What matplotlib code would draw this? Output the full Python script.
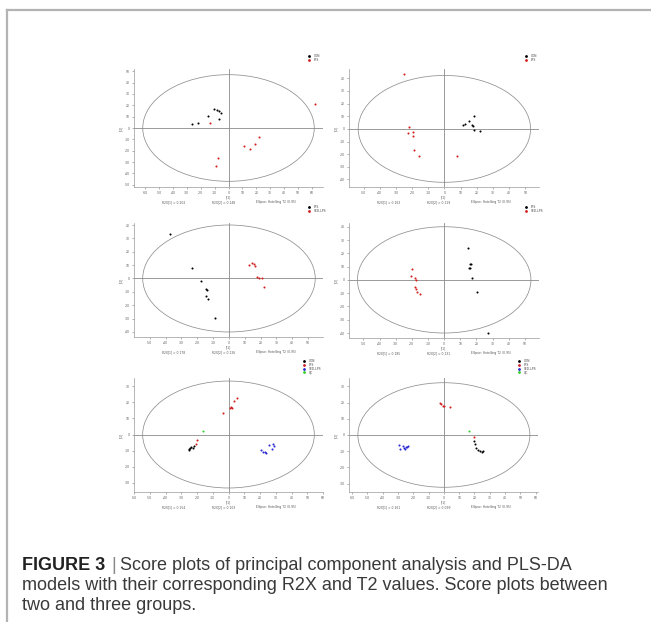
import matplotlib
matplotlib.use("Agg")
import matplotlib.pyplot as plt
from matplotlib.patches import Ellipse
from matplotlib.lines import Line2D
import matplotlib.font_manager as fm
import numpy as np

W, H = 651, 622

# ---- score data (t[1], t[2]) per model ----
p1_con_x = [-10.3, -8.4, -6.5, -5.3, -14.6, -6.7, -21.8, -26.6]
p1_con_y = [17.1, 15.6, 14.7, 13.2, 10.9, 8.2, 4.1, 3.5]
p1_lps_x = [-13.4, 62.4, 21.6, 18.9, 11.3, 15.8, -7.7, -9.1]
p1_lps_y = [4.1, 21.2, -7.9, -13.8, -15.6, -18.2, -26.5, -33.2]

p2_con_x = [11.3, 13.0, 15.3, 18.1, 17.3, 17.7, 18.1, 22.1]
p2_con_y = [3.2, 4.0, 6.6, 10.1, 3.2, 2.4, -0.8, -1.3]
p2_lps_x = [-25.2, -21.9, -22.3, -19.6, -19.6, -18.6, -15.5, 8.0]
p2_lps_y = [43.1, 1.3, -3.4, -2.4, -5.3, -16.9, -21.2, -21.4]

p3_lps_x = [-37.5, -23.2, -17.5, -14.7, -13.7, -14.3, -13.5, -8.6]
p3_lps_y = [33.0, 7.75, -2.0, -8.0, -8.25, -12.75, -15.25, -29.75]
p3_sed_x = [12.4, 14.5, 15.6, 16.6, 17.5, 18.7, 20.8, 21.9]
p3_sed_y = [10.25, 11.5, 10.5, 9.0, 1.25, 0.0, 0.0, -6.25]

p4_lps_x = [14.5, 16.3, 15.5, 15.9, 16.7, 17.1, 20.2, 27.3]
p4_lps_y = [23.75, 11.75, 9.25, 8.75, 12.25, 1.75, -9.5, -40.0]
p4_sed_x = [-20.2, -20.5, -18.2, -17.6, -18.2, -17.6, -16.9, -15.1]
p4_sed_y = [8.0, 3.25, 1.75, -0.25, -5.0, -6.75, -9.5, -10.5]

p5_con_x = [-21.7, -22.7, -24.2, -25.3, -23.5, -24.8]
p5_con_y = [-6.9, -8.1, -8.5, -9.4, -7.6, -9.0]
p5_lps_x = [5.5, 3.8, 1.7, 0.8, -3.6, 2.0, -19.8, -20.6]
p5_lps_y = [22.9, 21.0, 16.9, 16.25, 13.3, 16.5, -3.5, -5.6]
p5_sed_x = [25.5, 28.0, 28.8, 27.8, 20.8, 22.1, 23.8, 23.2]
p5_sed_y = [-6.5, -6.0, -7.3, -8.75, -9.6, -10.8, -11.7, -10.8]
p5_qc_x = [-16.4]
p5_qc_y = [2.3]

p6_con_x = [19.8, 20.2, 21.1, 22.4, 23.7, 25.0, 25.6]
p6_con_y = [-3.5, -5.7, -7.8, -9.4, -10.1, -10.5, -10.1]
p6_lps_x = [-2.6, -2.0, -0.4, 0.2, 3.7, 19.6]
p6_lps_y = [19.9, 19.3, 17.9, 17.7, 17.0, -1.4]
p6_sed_x = [-29.6, -26.7, -24.8, -23.3, -26.1, -28.7, -25.4, -23.9]
p6_sed_y = [-6.2, -6.6, -7.2, -6.8, -8.2, -8.4, -8.8, -7.4]
p6_qc_x = [16.5]
p6_qc_y = [2.3]

# group labels and colours
two_group_a = ["CON", "LPS"]
two_group_b = ["LPS", "SED-LPS"]
three_group = ["CON", "LPS", "SED-LPS", "QC"]
colors_two = ["#000000", "#d21f1f"]
colors_four = ["#000000", "#d21f1f", "#2a2ad0", "#2fd02f"]

# model summary texts
r2x_1 = ["R2X[1] = 0.202", "R2X[1] = 0.163", "R2X[1] = 0.178", "R2X[1] = 0.185", "R2X[1] = 0.154", "R2X[1] = 0.161"]
r2x_2 = ["R2X[2] = 0.148", "R2X[2] = 0.119", "R2X[2] = 0.126", "R2X[2] = 0.131", "R2X[2] = 0.103", "R2X[2] = 0.099"]
ellipse_txt = "Ellipse: Hotelling T2 (0.95)"

# caption
cap_head = "FIGURE 3"
cap_line1 = "Score plots of principal component analysis and PLS-DA"
cap_line2 = "models with their corresponding R2X and T2 values. Score plots between"
cap_line3 = "two and three groups."

# ---- axes geometry / scales per model ----
panels = [
    dict(box=(134, 69, 323, 187), xlim=(-68, 68), ylim=(-52, 52), ell=(61.7, 47.0),
         xt=np.arange(-60, 61, 10), yt=np.arange(-50, 51, 10),
         groups=[(p1_con_x, p1_con_y), (p1_lps_x, p1_lps_y)], labels=two_group_a, colors=colors_two,
         leg=(309, 56)),
    dict(box=(349, 69, 539, 187), xlim=(-59, 58.5), ylim=(-46, 47.4), ell=(53.3, 42.3),
         xt=np.arange(-50, 51, 10), yt=np.arange(-40, 41, 10),
         groups=[(p2_con_x, p2_con_y), (p2_lps_x, p2_lps_y)], labels=two_group_a, colors=colors_two,
         leg=(526, 56)),
    dict(box=(134, 223, 323, 337), xlim=(-60, 59.4), ylim=(-43.75, 41.5), ell=(54.5, 40.0),
         xt=np.arange(-50, 51, 10), yt=np.arange(-40, 41, 10),
         groups=[(p3_lps_x, p3_lps_y), (p3_sed_x, p3_sed_y)], labels=two_group_b, colors=colors_two,
         leg=(309, 207)),
    dict(box=(349, 223, 539, 338), xlim=(-58.9, 58.7), ylim=(-43.75, 42.8), ell=(53.7, 40.0),
         xt=np.arange(-50, 51, 10), yt=np.arange(-40, 41, 10),
         groups=[(p4_lps_x, p4_lps_y), (p4_sed_x, p4_sed_y)], labels=two_group_b, colors=colors_two,
         leg=(526, 207)),
    dict(box=(134, 378, 323, 492), xlim=(-60, 60), ylim=(-35.8, 35.2), ell=(54.5, 33.3),
         xt=np.arange(-60, 61, 10), yt=np.arange(-30, 31, 10),
         groups=[(p5_con_x, p5_con_y), (p5_lps_x, p5_lps_y), (p5_sed_x, p5_sed_y), (p5_qc_x, p5_qc_y)],
         labels=three_group, colors=colors_four, leg=(304, 361)),
    dict(box=(349, 378, 538, 492), xlim=(-62, 61.5), ylim=(-35.1, 35.1), ell=(56.2, 32.2),
         xt=np.arange(-60, 61, 10), yt=np.arange(-30, 31, 10),
         groups=[(p6_con_x, p6_con_y), (p6_lps_x, p6_lps_y), (p6_sed_x, p6_sed_y), (p6_qc_x, p6_qc_y)],
         labels=three_group, colors=colors_four, leg=(519, 361)),
]

fig = plt.figure(figsize=(W / 100, H / 100), dpi=100)
fig.patch.set_facecolor("white")


def fx(x):
    return x / W


def fy(y):
    return 1 - y / H


# outer frame (top and left rules)
fig.add_artist(Line2D([fx(7), fx(651)], [fy(10), fy(10)], color="#b3b3b3", lw=1.6))
fig.add_artist(Line2D([fx(7), fx(7)], [fy(10), fy(622)], color="#b3b3b3", lw=1.6))

grey = "#8a8a8a"
tiny = 2.2

for i, p in enumerate(panels):
    l, t, r, b = p["box"]
    ax = fig.add_axes([fx(l), fy(b), (r - l) / W, (b - t) / H])
    ax.set_xlim(*p["xlim"])
    ax.set_ylim(*p["ylim"])
    for s in ax.spines.values():
        s.set_color("#9a9a9a")
        s.set_linewidth(0.5)
    ax.spines["top"].set_visible(False)
    ax.spines["right"].set_visible(False)
    ax.axhline(0, color=grey, lw=0.6)
    ax.axvline(0, color=grey, lw=0.6)
    ax.add_patch(Ellipse((0, 0), 2 * p["ell"][0], 2 * p["ell"][1], fill=False,
                         edgecolor="#8f8f8f", lw=0.55))
    for (gx, gy), c in zip(p["groups"], p["colors"]):
        ax.scatter(gx, gy, s=2.2, color=c, linewidths=0, zorder=3)
    ax.set_xticks(p["xt"])
    ax.set_yticks(p["yt"])
    ax.set_xticklabels([str(v) for v in p["xt"]])
    ax.set_yticklabels([str(v) for v in p["yt"]])
    ax.tick_params(labelsize=tiny, length=1.5, width=0.4, color="#777777",
                   labelcolor="#555555", pad=1.5)
    ax.set_xlabel("t[1]", fontsize=tiny, color="#555555", labelpad=0.5)
    ax.set_ylabel("t[2]", fontsize=tiny, color="#555555", labelpad=1)

    # summary line under the plot
    ty = b + 15
    fig.text(fx(l + 40), fy(ty), r2x_1[i], fontsize=tiny, color="#555555", ha="center", va="center")
    fig.text(fx(l + 90), fy(ty), r2x_2[i], fontsize=tiny, color="#555555", ha="center", va="center")
    fig.text(fx(l + 142), fy(ty), ellipse_txt, fontsize=tiny, color="#555555", ha="center", va="center")

    # legend above the top-right corner
    lx, ly = p["leg"]
    for k, (lab, c) in enumerate(zip(p["labels"], p["colors"])):
        yy = ly + k * 3.8
        fig.add_artist(Line2D([fx(lx)], [fy(yy)], marker="o", markersize=1.0,
                              color=c, linestyle="none"))
        fig.text(fx(lx + 5), fy(yy), lab, fontsize=tiny, color="#444444", va="center", ha="left")

# caption text
names = {f.name for f in fm.fontManager.ttflist}
cap_font = "Liberation Sans Narrow" if "Liberation Sans Narrow" in names else "Liberation Sans"
cs = 13.0
cap_col = "#3a3a3a"
head = fig.text(fx(22), fy(566), cap_head, fontsize=cs, fontweight="bold", family=cap_font,
                color="#222222", va="center", ha="left")
renderer = fig.canvas.get_renderer()
hx = head.get_window_extent(renderer).x1
fig.text((hx + 6) / W, fy(566), "|", fontsize=cs, family=cap_font, color="#888888",
         va="center", ha="left")
fig.text((hx + 15) / W, fy(566), cap_line1, fontsize=cs, family=cap_font, color=cap_col,
         va="center", ha="left")
fig.text(fx(22), fy(586), cap_line2, fontsize=cs, family=cap_font, color=cap_col,
         va="center", ha="left")
fig.text(fx(22), fy(606), cap_line3, fontsize=cs, family=cap_font, color=cap_col,
         va="center", ha="left")

fig.savefig("out.png", dpi=100, facecolor="white")
